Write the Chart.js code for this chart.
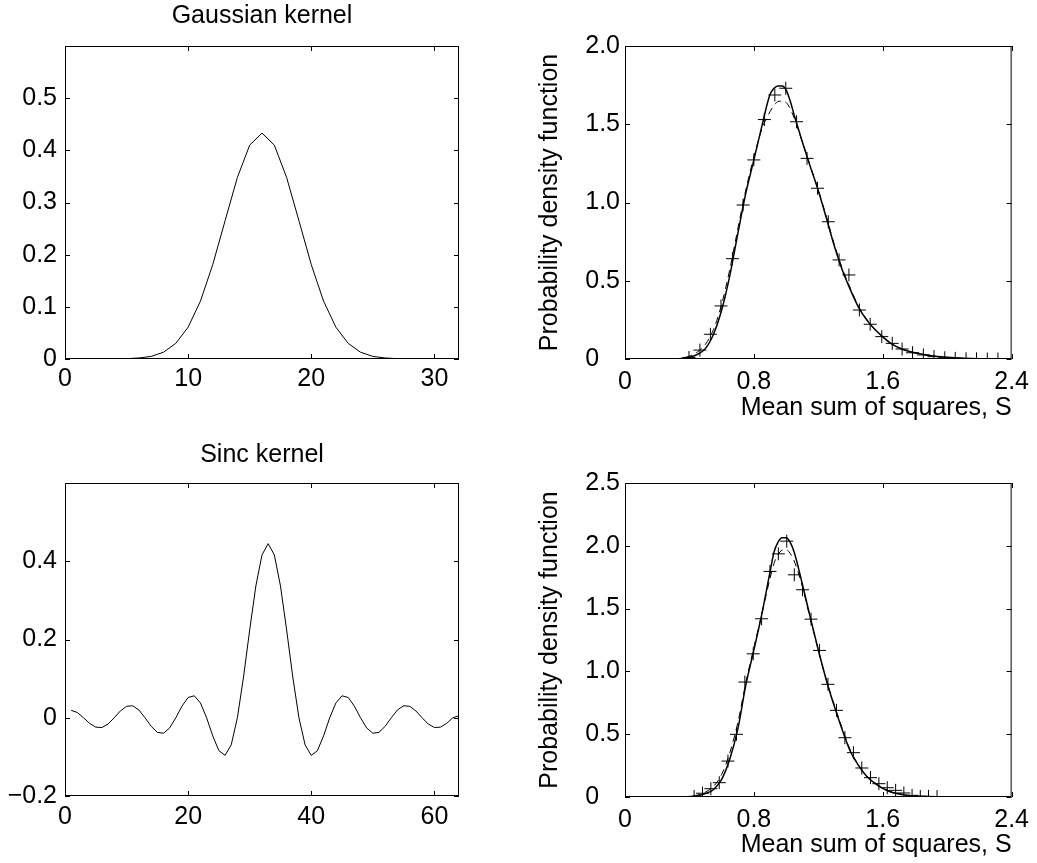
<!DOCTYPE html>
<html>
<head>
<meta charset="utf-8">
<script src="https://cdn.jsdelivr.net/npm/chart.js@4"></script>
<style>
  html, body { margin: 0; padding: 0; background: #fff; }
  body { width: 1037px; height: 863px; position: relative; overflow: hidden; }
  canvas { position: absolute; }
</style>
</head>
<body>
<canvas id="gauss" width="520" height="430" style="left:0px;top:0px"></canvas>
<canvas id="pdfTop" width="517" height="430" style="left:520px;top:0px"></canvas>
<canvas id="sinc" width="520" height="433" style="left:0px;top:430px"></canvas>
<canvas id="pdfBottom" width="517" height="433" style="left:520px;top:430px"></canvas>
<script>
// left column: the two kernels
const gaussX = [1,2,3,4,5,6,7,8,9,10,11,12,13,14,15,16,17,18,19,20,21,22,23,24,25,26,27,28,29,30,31];
const gaussY = [0,0.00001,0.00004,0.0002,0.0006,0.002,0.005,0.013,0.030,0.061,0.111,0.181,0.265,0.348,0.410,0.433,
                0.410,0.348,0.265,0.181,0.111,0.061,0.030,0.013,0.005,0.002,0.0006,0.0002,0.00004,0.00001,0];

const sincX = [1,2,3,4,5,6,7,8,9,10,11,12,13,14,15,16,17,18,19,20,21,22,23,24,25,26,27,28,29,30,31,32,
               33,34,35,36,37,38,39,40,41,42,43,44,45,46,47,48,49,50,51,52,53,54,55,56,57,58,59,60,61,62,63,64];
const sincY = [0.019,0.0134,0,-0.0144,-0.0241,-0.0249,-0.0160,0,0.0173,0.0293,0.0306,0.0198,0,-0.0219,-0.0374,-0.0396,
               -0.0260,0,0.0297,0.0518,0.0561,0.0378,0,-0.0463,-0.0842,-0.0962,-0.0694,0,0.1041,0.2245,0.3368,0.4163,
               0.445,0.4163,0.3368,0.2245,0.1041,0,-0.0694,-0.0962,-0.0842,-0.0463,0,0.0378,0.0561,0.0518,0.0297,0,
               -0.0260,-0.0396,-0.0374,-0.0219,0,0.0198,0.0306,0.0293,0.0173,0,-0.0160,-0.0249,-0.0241,-0.0144,0,0.005];

// right column, top panel
const curveTopX = [0.30,0.35,0.40,0.45,0.50,0.55,0.60,0.65,0.70,0.75,0.80,0.85,0.90,0.925,0.95,0.975,1.00,1.025,1.05,
                   1.10,1.15,1.20,1.25,1.30,1.35,1.40,1.45,1.50,1.55,1.60,1.65,1.70,1.75,1.80,1.90,2.00,2.10,2.20,2.40];
const solidTopY = [0,0.003,0.012,0.030,0.068,0.160,0.313,0.53,0.80,1.06,1.272,1.49,1.69,1.73,1.745,1.745,1.72,1.65,1.56,
                   1.39,1.23,1.075,0.90,0.72,0.565,0.44,0.33,0.25,0.19,0.142,0.100,0.072,0.053,0.040,0.021,0.011,0.005,0.002,0];
const dashedTopY = [0,0.005,0.018,0.045,0.095,0.19,0.35,0.57,0.83,1.08,1.29,1.47,1.58,1.62,1.645,1.648,1.64,1.60,1.54,
                    1.39,1.235,1.08,0.91,0.73,0.575,0.45,0.335,0.255,0.19,0.14,0.10,0.072,0.052,0.038,0.020,0.010,0.004,0.002,0];
const crossTopX = [0.397,0.465,0.530,0.596,0.667,0.733,0.800,0.865,0.930,0.998,1.065,1.130,1.195,1.262,1.329,
                   1.390,1.455,1.522,1.594,1.659,1.720,1.785,1.852,1.918,1.985,2.050,2.117,2.182,2.249,2.315];
const crossTopY = [0.01,0.057,0.158,0.339,0.641,0.984,1.272,1.53,1.687,1.730,1.516,1.282,1.091,0.877,0.633,
                   0.537,0.313,0.222,0.143,0.100,0.064,0.040,0.026,0.015,0.008,0.004,0.002,0.001,0,0];

// right column, bottom panel
const curveBotX = [0.35,0.40,0.45,0.50,0.55,0.60,0.65,0.70,0.75,0.80,0.85,0.90,0.925,0.95,0.975,1.00,1.025,1.05,
                   1.10,1.15,1.20,1.25,1.30,1.35,1.40,1.45,1.50,1.55,1.60,1.65,1.70,1.75,1.80,1.90,2.00,2.10];
const solidBotY = [0,0.002,0.01,0.028,0.06,0.14,0.30,0.54,0.89,1.17,1.46,1.79,1.95,2.03,2.065,2.065,2.03,1.95,
                   1.70,1.43,1.17,0.93,0.72,0.53,0.36,0.25,0.165,0.11,0.068,0.040,0.024,0.013,0.007,0.002,0.001,0];
const dashedBotY = [0,0.004,0.015,0.04,0.085,0.18,0.35,0.59,0.91,1.19,1.46,1.74,1.86,1.93,1.965,1.97,1.94,1.88,
                    1.68,1.42,1.17,0.93,0.73,0.54,0.37,0.255,0.17,0.115,0.072,0.044,0.027,0.015,0.008,0.003,0.001,0];
const crossBotX = [0.429,0.481,0.533,0.585,0.639,0.692,0.744,0.796,0.848,0.900,0.952,1.004,1.051,1.102,1.155,
                   1.207,1.260,1.313,1.365,1.418,1.470,1.524,1.576,1.628,1.680,1.731,1.782,1.833,1.884,1.937];
const crossBotY = [0.005,0.03,0.066,0.114,0.286,0.499,0.915,1.14,1.419,1.796,1.936,2.037,1.769,1.650,1.416,
                   1.167,0.897,0.690,0.472,0.353,0.231,0.154,0.106,0.074,0.053,0.032,0.013,0.005,0.005,0.003];

// ticks
const gaussXTicks = [0, 10, 20, 30];
const gaussYTicks = [0, 0.1, 0.2, 0.3, 0.4, 0.5];
const gaussYLabels = ['0', '0.1', '0.2', '0.3', '0.4', '0.5'];
const sincXTicks = [0, 20, 40, 60];
const sincYTicks = [-0.2, 0, 0.2, 0.4];
const sincYLabels = ['\u22120.2', '0', '0.2', '0.4'];
const pdfXTicks = [0, 0.8, 1.6, 2.4];
const pdfXLabels = ['0', '0.8', '1.6', '2.4'];
const pdfTopYTicks = [0, 0.5, 1, 1.5, 2];
const pdfTopYLabels = ['0\u00a0\u00a0\u00a0', '0.5', '1.0', '1.5', '2.0'];
const pdfBotYTicks = [0, 0.5, 1, 1.5, 2, 2.5];
const pdfBotYLabels = ['0\u00a0\u00a0\u00a0', '0.5', '1.0', '1.5', '2.0', '2.5'];

Chart.defaults.font.family = "'Liberation Sans', Arial, Helvetica, sans-serif";
Chart.defaults.font.size = 25;
Chart.defaults.color = '#000';

const pts = (xs, ys) => xs.map((x, i) => ({ x: x, y: ys[i] }));

// box round the axes with inward tick marks, like matlab
const boxPlugin = {
    id: 'boxPlugin',
    afterDraw(chart) {
        const ctx = chart.ctx, a = chart.chartArea;
        const x = chart.scales.x, y = chart.scales.y;
        ctx.save();
        ctx.strokeStyle = '#000';
        ctx.lineWidth = 1;
        ctx.beginPath();
        x.ticks.forEach(t => {
            const px = Math.round(x.getPixelForValue(t.value)) + 0.5;
            ctx.moveTo(px, a.bottom); ctx.lineTo(px, a.bottom - 5);
            ctx.moveTo(px, a.top); ctx.lineTo(px, a.top + 5);
        });
        y.ticks.forEach(t => {
            const py = Math.round(y.getPixelForValue(t.value)) + 0.5;
            ctx.moveTo(a.left, py); ctx.lineTo(a.left + 5, py);
            ctx.moveTo(a.right, py); ctx.lineTo(a.right - 5, py);
        });
        ctx.stroke();
        ctx.strokeRect(a.left + 0.5, a.top + 0.5, a.width - 1, a.height - 1);
        ctx.restore();
    }
};

function scale(min, max, ticks, labels, pad, fit, title) {
    return {
        type: 'linear', min: min, max: max,
        grid: { display: false, drawTicks: false },
        border: { display: false },
        afterBuildTicks: s => { s.ticks = ticks.map(v => ({ value: v })); },
        afterFit: fit,
        ticks: { padding: pad, autoSkip: false, maxRotation: 0, callback: (v, i) => labels[i] },
        title: title || { display: false }
    };
}

function lineSet(xs, ys, width, dash) {
    return {
        data: pts(xs, ys), borderColor: '#000', borderWidth: width, borderDash: dash || [],
        pointRadius: 0, showLine: true, cubicInterpolationMode: 'monotone', fill: false
    };
}

function crossSet(xs, ys) {
    return {
        data: pts(xs, ys), showLine: false, pointStyle: 'cross', pointRadius: 6.5,
        pointBorderWidth: 1, pointBorderColor: '#000', borderColor: '#000'
    };
}

function kernelChart(id, title, titlePad, xs, ys, xMax, xTicks, yMin, yTicks, yLabels, xPad, xH) {
    new Chart(document.getElementById(id), {
        type: 'scatter',
        data: { datasets: [Object.assign(lineSet(xs, ys, 1), { cubicInterpolationMode: 'default', tension: 0 })] },
        options: {
            responsive: false, animation: false,
            layout: { padding: { left: 0, right: 61, top: 0, bottom: 0 } },
            plugins: {
                legend: { display: false }, tooltip: { enabled: false },
                title: { display: true, text: title, fullSize: false, font: { size: 25, weight: 'normal' }, color: '#000', padding: titlePad }
            },
            scales: {
                x: scale(0, xMax, xTicks, xTicks.map(String), xPad, s => { s.height = xH; }),
                y: scale(yMin, 0.6, yTicks, yLabels, 8, s => { s.width = 65; })
            }
        },
        plugins: [boxPlugin]
    });
}

function pdfChart(id, top, xH, xTitlePad, solidX, solidY, dashedY, cx, cy, yMax, yTicks, yLabels) {
    new Chart(document.getElementById(id), {
        type: 'scatter',
        data: { datasets: [
            crossSet(cx, cy),
            lineSet(solidX, solidY, 1.5),
            lineSet(solidX, dashedY, 1, [7, 5])
        ] },
        options: {
            responsive: false, animation: false,
            layout: { padding: { left: 0, right: 19, top: top, bottom: 0 } },
            plugins: { legend: { display: false }, tooltip: { enabled: false } },
            scales: {
                x: scale(0, 2.4, pdfXTicks, pdfXLabels, 8, s => { s.height = xH; },
                    { display: true, text: 'Mean sum of squares, S', align: 'end', font: { size: 25 }, color: '#000',
                      padding: { top: 0, bottom: xTitlePad } }),
                y: scale(0, yMax, yTicks, yLabels, 5, s => { s.width = 105; },
                    { display: true, text: 'Probability density function', font: { size: 25 }, color: '#000',
                      padding: { top: 15, bottom: 0 } })
            }
        },
        plugins: [boxPlugin]
    });
}

kernelChart('gauss', 'Gaussian kernel', { top: 1.5, bottom: 14.5 }, gaussX, gaussY, 32, gaussXTicks, 0, gaussYTicks, gaussYLabels, 5, 71);
kernelChart('sinc', 'Sinc kernel', { top: 10, bottom: 13 }, sincX, sincY, 64, sincXTicks, -0.2, sincYTicks, sincYLabels, 6, 67);
pdfChart('pdfTop', 46, 71, 6.7, curveTopX, solidTopY, dashedTopY, crossTopX, crossTopY, 2, pdfTopYTicks, pdfTopYLabels);
pdfChart('pdfBottom', 53, 66, 3, curveBotX, solidBotY, dashedBotY, crossBotX, crossBotY, 2.5, pdfBotYTicks, pdfBotYLabels);
</script>
</body>
</html>
